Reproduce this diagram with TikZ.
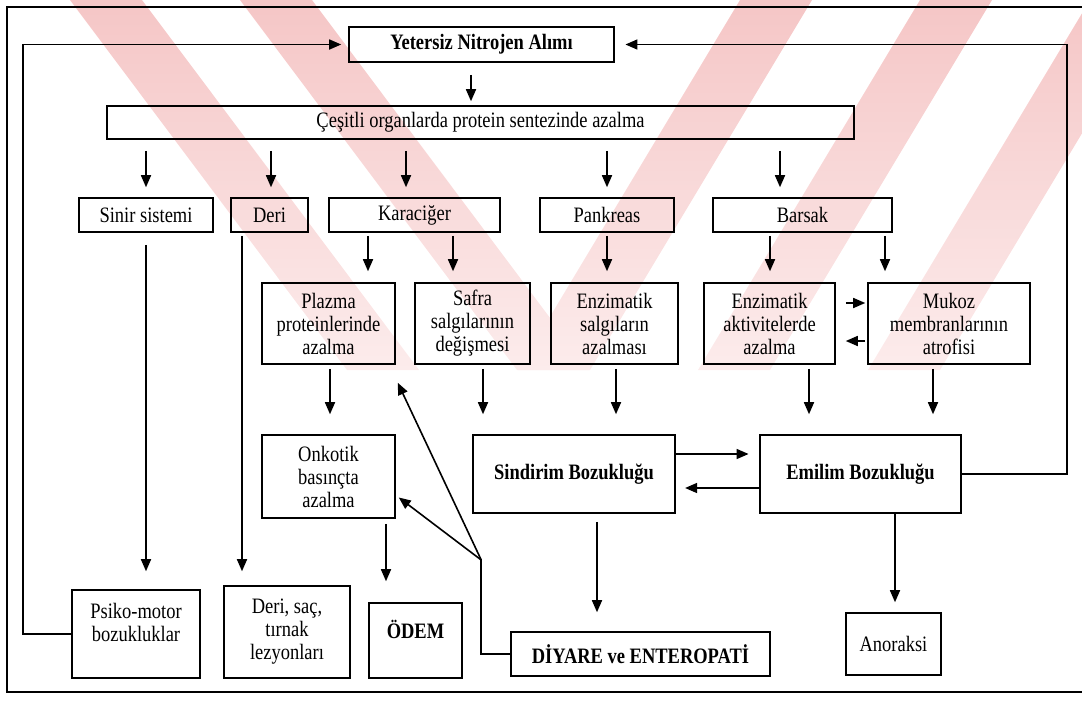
\documentclass[tikz,border=0pt]{standalone}
\usepackage{fontspec}
\setmainfont[FakeStretch=0.84]{Liberation Serif}
\usetikzlibrary{arrows.meta,calc}
\definecolor{wmA}{RGB}{245,198,198}
\definecolor{wmB}{RGB}{252,236,236}
\begin{document}
\begin{tikzpicture}[x=0.75pt,y=-0.75pt,
  box/.style={draw, line width=1.15pt, inner sep=0pt, align=center, font=\fontsize{16.5}{17.25}\selectfont},
  sz/.style 2 args={minimum width=#1*0.75pt, minimum height=#2*0.75pt},
  bx/.style={font=\fontsize{16.5}{17.25}\selectfont\bfseries},
  arr/.style={line width=1.2pt, -{Triangle[length=9pt,width=7.5pt]}},
  ln/.style={line width=1.2pt},
  band/.style={top color=wmA, bottom color=wmB}]
\useasboundingbox (0,0) rectangle (1082,700);
% watermark bands
\foreach \x in {70,240} {\shade[band] (\x,0) -- (\x+72,0) -- (\x+349,370) -- (\x+277,370) -- cycle;}
\foreach \x in {740,920,1090} {\shade[band] (\x,0) -- (\x+72,0) -- (\x-150,370) -- (\x-222,370) -- cycle;}
% frame
\draw[line width=1.15pt] (1082,7) -- (7,7) -- (7,692) -- (1082,692);
% nodes
\node[box,sz={265}{35},bx] (yet) at (481.5,44.5) {Yetersiz Nitrojen Alımı};
\node[box,sz={747}{33}] (ces) at (480.5,122.5) {Çeşitli organlarda protein sentezinde azalma};
\node[box,sz={134}{34}] (sinir) at (146,215) {Sinir sistemi};
\node[box,sz={77}{34}] (deri) at (269.5,215) {Deri};
\node[box,sz={171}{34}] (kc) at (414.5,215) {Karaciğer};
\node[box,sz={134}{34}] (pank) at (607,215) {Pankreas};
\node[box,sz={179}{34}] (bars) at (802.5,215) {Barsak};
\node[box,sz={133}{81}] (plz) at (328.5,323.5) {Plazma\\proteinlerinde\\azalma};
\node[box,sz={115}{81}] (safra) at (472.5,323.5) {Safra\\salgılarının\\değişmesi};
\node[box,sz={127}{81}] (enzs) at (614.5,323.5) {Enzimatik\\salgıların\\azalması};
\node[box,sz={131}{81}] (enza) at (769.5,323.5) {Enzimatik\\aktivitelerde\\azalma};
\node[box,sz={162}{81}] (mukoz) at (949,323.5) {Mukoz\\membranlarının\\atrofisi};
\node[box,sz={133}{83}] (onk) at (328.5,476.5) {Onkotik\\basınçta\\azalma};
\node[box,sz={202}{78},bx] (sind) at (574,474) {Sindirim Bozukluğu};
\node[box,sz={201}{78},bx] (emil) at (860.5,474) {Emilim Bozukluğu};
\node[box,sz={128}{88}] (psiko) at (136,634) {Psiko-motor\\bozukluklar\\\mbox{}};
\node[box,sz={126}{92}] (derisac) at (287,632) {Deri, saç,\\tırnak\\lezyonları};
\node[box,sz={93}{75},bx] (odem) at (415.5,640.5) {ÖDEM\\\mbox{}};
\node[box,sz={259}{44},bx] (diy) at (640.5,654) {DİYARE ve ENTEROPATİ};
\node[box,sz={95}{62}] (anor) at (893.5,644) {Anoraksi};
% yet -> ces
\coordinate (a0) at ($(yet.south)+(-10.5,0)$);
\draw[arr, shorten <=9pt, shorten >=3pt] (a0) -- (a0 |- ces.north);
% ces -> organs
\coordinate (a1) at ($(sinir.north)+(0,0)$);
\coordinate (a2) at ($(deri.north)+(1.5,0)$);
\coordinate (a3) at ($(kc.north)+(-8.5,0)$);
\coordinate (a4) at ($(pank.north)+(0,0)$);
\coordinate (a5) at ($(bars.north)+(-22.5,0)$);
\foreach \c in {a1,a2,a3,a4,a5} {\draw[arr, shorten <=8.25pt, shorten >=7.5pt] (ces.south -| \c) -- (\c);}
% organs -> second row
\coordinate (b1) at ($(plz.north)+(39.5,0)$);
\coordinate (b2) at ($(safra.north)+(-19.5,0)$);
\coordinate (b3) at ($(enzs.north)+(-7.5,0)$);
\coordinate (b4) at ($(enza.north)+(0.5,0)$);
\coordinate (b5) at ($(mukoz.north)+(-64,0)$);
\draw[arr, shorten <=2.25pt, shorten >=8.25pt] (kc.south -| b1) -- (b1);
\draw[arr, shorten <=2.25pt, shorten >=8.25pt] (kc.south -| b2) -- (b2);
\draw[arr, shorten <=2.25pt, shorten >=8.25pt] (pank.south -| b3) -- (b3);
\draw[arr, shorten <=2.25pt, shorten >=8.25pt] (bars.south -| b4) -- (b4);
\draw[arr, shorten <=2.25pt, shorten >=8.25pt] (bars.south -| b5) -- (b5);
% Sinir, Deri long arrows
\coordinate (c1) at ($(psiko.north)+(10,0)$);
\coordinate (c2) at ($(derisac.north)+(-45,0)$);
\draw[arr, shorten <=9pt, shorten >=13.5pt] (sinir.south -| c1) -- (c1);
\draw[arr, shorten <=2.25pt, shorten >=10.5pt] (deri.south -| c2) -- (c2);
% second row -> third row
\coordinate (d1) at ($(onk.north)+(1.5,0)$);
\coordinate (d2) at ($(sind.north)+(-91,0)$);
\coordinate (d3) at ($(sind.north)+(42,0)$);
\coordinate (d4) at ($(emil.north)+(-51.5,0)$);
\coordinate (d5) at ($(emil.north)+(72.5,0)$);
\foreach \s/\t in {plz/d1,safra/d2,enzs/d3,enza/d4,mukoz/d5} {\draw[arr, shorten <=3pt, shorten >=15pt] (\s.south -| \t) -- (\t);}
% horizontal pairs
\coordinate (h1) at ($(sind.east)+(0,-20)$);
\coordinate (h2) at ($(emil.west)+(0,14)$);
\coordinate (h3) at ($(enza.east)+(0,-20.5)$);
\coordinate (h4) at ($(mukoz.west)+(0,17.5)$);
\draw[arr, shorten >=8pt] (h1) -- (h1 -| emil.west);
\draw[arr, shorten >=7pt] (h2) -- (h2 -| sind.east);
\draw[arr, shorten <=7.5pt, shorten >=1.5pt] (h3) -- (h3 -| mukoz.west);
\draw[arr, shorten <=1.5pt, shorten >=7.5pt] (h4) -- (h4 -| enza.east);
% third row -> bottom
\coordinate (e1) at ($(odem.north)+(-29.5,0)$);
\coordinate (e2) at ($(diy.north)+(-43.5,0)$);
\coordinate (e3) at ($(anor.north)+(1.5,0)$);
\draw[arr, shorten <=3.75pt, shorten >=15.75pt] (onk.south -| e1) -- (e1);
\draw[arr, shorten <=6pt, shorten >=14.25pt] (sind.south -| e2) -- (e2);
\draw[arr, shorten >=7.5pt] (emil.south -| e3) -- (e3);
% feedback loops
\draw[arr, shorten >=5.25pt] (psiko.west) -- ++(-48,0) |- (yet.west);
\draw[arr, shorten >=8pt] (emil.east) -- ++(105,0) |- (yet.east);
% DIYARE back arrows
\coordinate (J) at ($(diy.west)+(-29,-94)$);
\coordinate (tOnk) at ($(onk.east)+(3,21)$);
\coordinate (tPlz) at ($(plz.south east)+(2,18)$);
\draw[ln] (diy.west) -| (J);
\draw[arr] (J) -- (tOnk);
\draw[arr] (J) -- (tPlz);
\end{tikzpicture}
\end{document}
